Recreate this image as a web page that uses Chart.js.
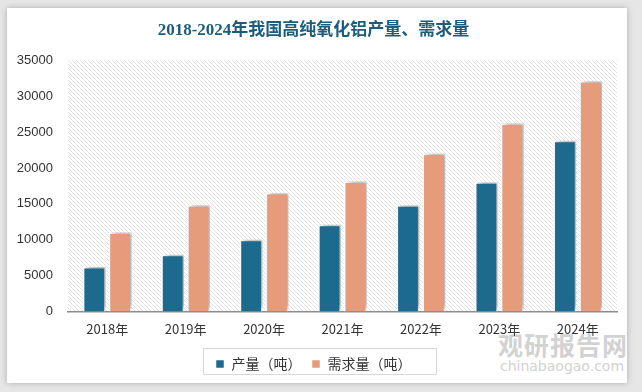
<!DOCTYPE html>
<html lang="zh">
<head>
  <meta charset="UTF-8">
  <title>2018-2024年我国高纯氧化铝产量、需求量</title>
  <script src="https://cdn.jsdelivr.net/npm/chart.js"></script>
  <style>
    body { margin: 0; background: #e6e6e6; width: 642px; height: 392px; overflow: hidden; position: relative; }
    #card { position: absolute; left: 7px; top: 8px; width: 620px; height: 375px; background: #fff; box-shadow: 0 0 6px rgba(0,0,0,0.25); }
    #wrap { position: absolute; left: 0; top: 0; width: 642px; height: 392px; }
    #mark { position: absolute; left: 452px; top: 330px; color: #d2d2d2; font-family: 'Noto Sans CJK SC', sans-serif; text-align: center; }
    #mark .a { font-size: 25px; font-weight: bold; line-height: 28px; letter-spacing: 1px; padding-left: 46px; }
    #mark .b { font-size: 14px; font-family: 'DejaVu Sans', sans-serif; line-height: 16px; padding-left: 44px; }
  </style>
</head>
<body>
  <div id="card"></div>
  <div id="mark"><div class="a">观研报告网</div><div class="b">chinabaogao.com</div></div>
  <div id="wrap"><canvas id="chart" width="642" height="392"></canvas></div>
  <script>
    const years = ['2018年', '2019年', '2020年', '2021年', '2022年', '2023年', '2024年'];
    const production = [6200, 7900, 10000, 12100, 14800, 18000, 23800];
    const demand = [11000, 14800, 16500, 18100, 22000, 26200, 32100];

    // diagonal hatch for the plot background
    function hatch() {
      const c = document.createElement('canvas');
      c.width = 4; c.height = 4;
      const g = c.getContext('2d');
      g.fillStyle = '#ffffff';
      g.fillRect(0, 0, 4, 4);
      g.strokeStyle = '#e2e2e2';
      g.lineWidth = 1;
      g.beginPath();
      g.moveTo(-1, -1); g.lineTo(5, 5);
      g.moveTo(-1, 3); g.lineTo(1, 5);
      g.moveTo(3, -1); g.lineTo(5, 1);
      g.stroke();
      return g.createPattern(c, 'repeat');
    }

    const plotBg = {
      id: 'plotBg',
      beforeDraw(chart) {
        const a = chart.chartArea, ctx = chart.ctx;
        ctx.save();
        ctx.fillStyle = hatch();
        ctx.fillRect(a.left, a.top, a.right - a.left, a.bottom - a.top);
        ctx.restore();
      },
      beforeDatasetsDraw(chart) {
        const ctx = chart.ctx;
        ctx.save();
        ctx.shadowColor = 'rgba(0,0,0,0.35)';
        ctx.shadowBlur = 5;
        ctx.shadowOffsetX = 3;
        ctx.shadowOffsetY = -2;
      },
      afterDatasetsDraw(chart) {
        chart.ctx.restore();
      },
      afterDraw(chart) {
        const ctx = chart.ctx;
        ctx.save();
        ctx.strokeStyle = '#d9d9d9';
        ctx.lineWidth = 1;
        ctx.strokeRect(203.5, 348.5, 233, 26);
        ctx.restore();
      }
    };

    new Chart(document.getElementById('chart'), {
      type: 'bar',
      data: {
        labels: years,
        datasets: [
          { label: '产量（吨）', data: production, backgroundColor: '#1c6b8e', borderColor: '#ffffff', borderWidth: 1.5 },
          { label: '需求量（吨）', data: demand, backgroundColor: '#e69b7b', borderColor: '#ffffff', borderWidth: 1.5 }
        ]
      },
      options: {
        responsive: false,
        animation: false,
        categoryPercentage: 0.66,
        barPercentage: 0.88,
        layout: { padding: { left: 10, right: 25, top: 0, bottom: 11 } },
        plugins: {
          title: {
            display: true,
            text: '2018-2024年我国高纯氧化铝产量、需求量',
            color: '#1b5d7c',
            font: { family: "'Liberation Serif', 'Noto Sans CJK SC', serif", size: 17, weight: 'bold' },
            padding: { top: 20, bottom: 20 }
          },
          legend: {
            position: 'bottom',
            labels: {
              color: '#333',
              font: { family: "'Noto Sans CJK SC', sans-serif", size: 14 },
              boxWidth: 9, boxHeight: 9, padding: 10
            }
          },
          tooltip: { enabled: false }
        },
        scales: {
          x: {
            grid: { display: false, drawTicks: false },
            border: { color: '#8c8c8c', width: 1.5 },
            ticks: { color: '#333', padding: 10, font: { family: "'Noto Sans CJK SC', sans-serif", size: 13 } }
          },
          y: {
            min: 0, max: 35000,
            afterFit(s) { s.width = 58; },
            grid: { display: false, drawTicks: false },
            border: { display: false },
            ticks: {
              stepSize: 5000, color: '#333', padding: 15,
              font: { family: "'Liberation Sans', sans-serif", size: 13 },
              callback: v => String(v)
            }
          }
        }
      },
      plugins: [plotBg]
    });
  </script>
</body>
</html>
